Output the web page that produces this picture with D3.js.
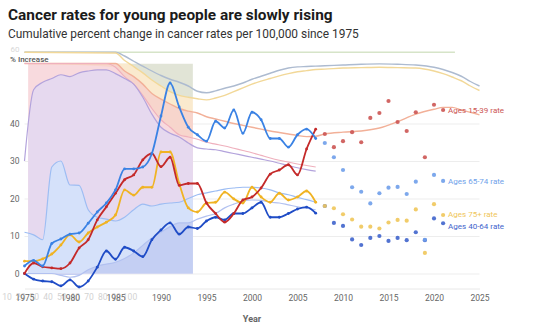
<!DOCTYPE html>
<html>
<head>
<meta charset="utf-8">
<script src="https://cdn.jsdelivr.net/npm/d3@7"></script>
<style>
  body { margin: 0; background: #fff; }
  svg { display: block; font-family: Roboto, "Noto Sans", sans-serif; }
</style>
</head>
<body>
<div id="chart"></div>
<script>
// Years drawn as connected lines, then as loose dots
var lineYears = d3.range(1975, 2008);
var dotYears = d3.range(2008, 2022);

// Cumulative % change per age group
var young = [0, 2.8, 1.8, 1.5, 1.3, 2.8, 6.8, 9, 14.3, 17.8, 21.4, 25, 26.3, 30.3, 32, 28.5, 31, 23.5, 24, 24, 18.8, 16, 13.7, 16, 19.6, 20.4, 22.8, 26.5, 27.6, 29, 26.3, 33.2, 38.5];
var youngDots = [37.2, 33.7, 35.3, 37.7, 35, 41.5, 42.8, 46, 40.4, 38, 43, 31, 45, 43.6];

var senior = [2, 3.5, 2, 8, 9.2, 10.5, 10.8, 13.4, 16.4, 18.8, 22.3, 27.9, 27.9, 28.4, 32, 42, 50.8, 44.4, 39, 37, 35.3, 40.6, 38.8, 43.6, 37.4, 43, 41, 36, 36, 33.7, 37, 38.5, 36];
var seniorDots = [34.8, 31, 27.6, 23, 21.8, 18.7, 21.4, 22.9, 23.1, 21.2, 24.5, 9, 26.3, 24.7];

var elder = [3.3, 3.3, 3.9, 5.2, 7.6, 10.3, 8.4, 10.8, 12.4, 13.7, 15.6, 22.3, 20.9, 23, 23, 32.4, 32.4, 24, 17.5, 16.4, 18.8, 19, 21.7, 19.9, 18.8, 23, 20.4, 19, 21.4, 19.6, 20.4, 22, 19];
var elderDots = [18, 17.4, 15.8, 14.4, 12.5, 12.5, 12, 13.6, 14.3, 14.1, 17.1, 5.5, 18.5, 15.6];

var middle = [0, -1.5, -2, -2.2, -3.3, -1.7, -3.6, -2, 1.7, 6, 3.8, 7, 6, 4.5, 9, 11.6, 13.5, 10.5, 12.4, 12, 14, 15, 14.3, 16, 16, 17.5, 19, 15, 15, 16, 17.2, 17.7, 16.1];
var middleDots = [18, 13.5, 12.7, 9.1, 7.6, 9.5, 10, 8.7, 9.5, 8.9, 11, 8.9, 14.7, 13.4];

// Faded layers left over from the previous view
var bandYears = [1975, 1985, 1986, 1987, 1988, 1989, 1990, 1991, 1992, 1993, 1994, 1995, 1996, 1997, 1998, 1999, 2000, 2001, 2002, 2003, 2004, 2005, 2006, 2007, 2008, 2010, 2012, 2014, 2016, 2018, 2020, 2021, 2022, 2023, 2024, 2025];
var bandGray = [59, 59, 58, 56.6, 55.3, 54, 52.8, 51.8, 51, 50, 48.6, 48.2, 48.7, 49.4, 50, 50.8, 51.8, 52.6, 53.4, 54.2, 54.8, 55.1, 55.2, 55.3, 55.4, 55.6, 55.8, 55.9, 55.8, 55.6, 55, 54.4, 53.6, 52.6, 51.2, 50];
var bandYellow = [59, 58.8, 56.8, 55.2, 53.5, 51.6, 50, 48.5, 47.5, 47, 46.6, 46.3, 46.8, 47.5, 48.5, 49.5, 50.5, 51.3, 52, 52.7, 53.3, 53.8, 54.1, 54.4, 54.5, 54.8, 54.9, 55, 54.9, 54.8, 54, 53.3, 52.4, 51.4, 50, 48.8];
var bandSalmon = [56, 56, 54, 52.5, 50.5, 48, 46.5, 45.2, 44, 43.3, 42.8, 41.8, 41.2, 40.6, 40, 39.5, 39, 38.5, 38, 37.6, 37.2, 36.8, 36.5, 36.6, 37.2, 37.7, 38, 38.8, 40.5, 42.5, 43.8, 44.3, 44.3, 43.6, 43, 42.3];

var bandPink = [56, 56, 56, 56, 56, 56, 56, 56, 56, 56, 55, 52.5, 50.5, 47.5, 44, 41, 39, 37, 36.4, 35.8, 35, 34.5, 34, 33.4, 32.8, 32.2, 31.5, 30.8, 30.2, 29.7, 29.2, 28.8, 28.4];
var bandPurple = [30, 49, 51, 52, 53, 52.5, 53.5, 54, 54.3, 54.3, 53.3, 52, 50.5, 47, 42.5, 39, 37.4, 36.4, 34.8, 33.5, 33.2, 33, 32.5, 32, 31.5, 31, 30.5, 30, 29.4, 28.8, 28.2, 27.7, 27.3];
var bandSky = [11, 10.3, 9, 28.4, 30, 23.6, 23.5, 17, 15, 14.5, 14, 15, 17, 18.5, 18, 18.5, 18.8, 19, 20, 21, 21.5, 22, 22.5, 22.8, 23, 23, 22.8, 22.3, 21.5, 21, 20.3, 19.7, 19];
var bandPeri = [0, 0, 0, 0, -0.5, -1, -0.5, 1, 2, 2.5, 3, 4, 5.5, 7.5, 9.5, 11, 12.5, 13.5, 13.5, 14.5, 15.3, 16, 17.5, 18.5, 19.3, 19.6, 19.5, 19, 18.8, 18.3, 17.8, 17.4, 17];

var topLineYears = [1975, 2022.3];
var topLineValue = 59;
var shadeYears = [1975.4, 1993.5];
var shadeTop = 56;

// Axis ticks
var yearTicks = [1975, 1980, 1985, 1990, 1995, 2000, 2005, 2010, 2015, 2020, 2025];
var yTicks = [0, 10, 20, 30, 40];
var ghostYTicks = [60];
var ghostXTicks = [10, 20, 30, 40, 50, 60, 70, 80, 90, 100];

var width = 550, height = 327;

var svg = d3.select('#chart')
  .append('svg')
  .attr('width', width)
  .attr('height', height);

var x = d3.scaleLinear().domain([1975, 2025]).range([24.5, 479.5]);
var y = d3.scaleLinear().domain([-4, 60]).range([288.5, 48.5]);
var xGhost = d3.scaleLinear().domain([40, 100]).range([48, 130]);

// Title block
svg.append('text')
  .attr('x', 8).attr('y', 20)
  .attr('font-size', 15.4).attr('font-weight', 700).attr('fill', '#1b1b1b')
  .text('Cancer rates for young people are slowly rising');
svg.append('text')
  .attr('x', 8).attr('y', 38)
  .attr('font-size', 11.9).attr('fill', '#333')
  .text('Cumulative percent change in cancer rates per 100,000 since 1975');

// Grid + y labels
var yAxis = svg.append('g')
  .attr('transform', 'translate(' + x(1975) + ',0)')
  .call(d3.axisLeft(y).tickValues(yTicks).tickSize(-(x(2025) - x(1975))).tickPadding(5));
yAxis.select('.domain').remove();
yAxis.selectAll('line').attr('stroke', '#ededed');
yAxis.selectAll('text').attr('fill', '#666').attr('font-size', 8.5).attr('font-family', 'Roboto, sans-serif');

svg.selectAll('.ghost-y')
  .data(ghostYTicks)
  .enter().append('text')
  .attr('x', x(1975) - 5).attr('y', function(d) { return y(d) + 3; })
  .attr('text-anchor', 'end').attr('font-size', 8).attr('fill', '#d8d8d8')
  .text(function(d) { return d; });

// Ghost x ticks
svg.selectAll('.ghost-x')
  .data(ghostXTicks)
  .enter().append('text')
  .attr('x', function(d) { return xGhost(d); }).attr('y', 300)
  .attr('text-anchor', 'middle').attr('font-size', 8.5).attr('fill', '#d2d2d2')
  .text(function(d) { return d; });

// X axis
var xAxis = svg.append('g')
  .attr('transform', 'translate(0,' + y(-4) + ')')
  .call(d3.axisBottom(x).tickValues(yearTicks).tickSize(0).tickPadding(6).tickFormat(d3.format('d')));
xAxis.select('.domain').attr('stroke', '#e8e8e8');
xAxis.selectAll('text').attr('fill', '#666').attr('font-size', 8.5).attr('font-family', 'Roboto, sans-serif');

svg.append('text')
  .attr('x', 10).attr('y', 62)
  .attr('font-size', 8).attr('font-weight', 500).attr('fill', '#555')
  .text('% Increase');
svg.append('text')
  .attr('x', x(2000)).attr('y', 322)
  .attr('text-anchor', 'middle')
  .attr('font-size', 9).attr('font-weight', 700).attr('fill', '#666')
  .text('Year');

// Shaded region
svg.append('clipPath').attr('id', 'shade')
  .append('rect')
  .attr('x', x(shadeYears[0])).attr('y', y(shadeTop))
  .attr('width', x(shadeYears[1]) - x(shadeYears[0]))
  .attr('height', y(-0.4) - y(shadeTop));

var shade = svg.append('g').attr('clip-path', 'url(#shade)');

function zipped(years, vals) {
  return years.map(function(d, i) { return {year: d, v: vals[i]}; });
}
function stacked(years, hi, lo) {
  return years.map(function(d, i) { return {year: d, hi: hi[i], lo: lo == null ? 0 : lo[i]}; });
}

var band = d3.area()
  .curve(d3.curveMonotoneX)
  .x(function(d) { return x(d.year); })
  .y0(function(d) { return y(d.lo); })
  .y1(function(d) { return y(d.hi); });

var ceiling = bandYears.map(function() { return shadeTop; });
var pinkOnBand = bandYears.map(function(d) {
  var i = lineYears.indexOf(d);
  return i < 0 ? bandPink[bandPink.length - 1] : bandPink[i];
});

shade.append('path').datum(stacked(bandYears, bandSalmon, null)).attr('d', band).attr('fill', '#f8dade');
shade.append('path').datum(stacked(bandYears, ceiling, bandYellow)).attr('d', band).attr('fill', '#e1e4d6');
shade.append('path').datum(stacked(bandYears, bandYellow, bandSalmon)).attr('d', band).attr('fill', '#faeace');
shade.append('path').datum(stacked(bandYears, bandSalmon, pinkOnBand)).attr('d', band).attr('fill', '#f7d5cc');
shade.append('path').datum(stacked(lineYears, bandPurple, null)).attr('d', band).attr('fill', '#e6d9ef');
shade.append('path').datum(stacked(lineYears, bandSky, null)).attr('d', band).attr('fill', '#d5e1fa');
shade.append('path').datum(stacked(lineYears, bandPeri, null)).attr('d', band).attr('fill', '#c4cff3');

var line = d3.line()
  .curve(d3.curveMonotoneX)
  .x(function(d) { return x(d.year); })
  .y(function(d) { return y(d.v); });

// Faded lines
var ghosts = [
  {years: topLineYears, vals: [topLineValue, topLineValue], color: '#d6e4c8', w: 1.6},
  {years: bandYears, vals: bandGray, color: '#adbbd0', w: 1.4},
  {years: bandYears, vals: bandYellow, color: '#f2d898', w: 1.4},
  {years: bandYears, vals: bandSalmon, color: '#f2b098', w: 1.4},
  {years: lineYears, vals: bandPink, color: '#efb0bd', w: 1.2},
  {years: lineYears, vals: bandPurple, color: '#b3a3dc', w: 1.2},
  {years: lineYears, vals: bandSky, color: '#9dbdf3', w: 1.2},
  {years: lineYears, vals: bandPeri, color: '#b2c1f0', w: 1.2}
];
ghosts.forEach(function(g) {
  svg.append('path')
    .datum(zipped(g.years, g.vals))
    .attr('d', line)
    .attr('fill', 'none')
    .attr('stroke', g.color)
    .attr('stroke-width', g.w);
});

// Main series
var series = [
  {vals: middle, dots: middleDots, line: '#1f4cc6', dot: '#3f64cc', label: 'Ages 40-64 rate', dy: 3},
  {vals: elder, dots: elderDots, line: '#f0b323', dot: '#efc65a', label: 'Ages 75+ rate', dy: -1},
  {vals: young, dots: youngDots, line: '#c42a2a', dot: '#cc5553', label: 'Ages 15-39 rate', dy: 0},
  {vals: senior, dots: seniorDots, line: '#3a82e4', dot: '#6f9fea', label: 'Ages 65-74 rate', dy: 0}
];

series.forEach(function(s) {
  var pts = zipped(lineYears, s.vals);
  svg.append('path')
    .datum(pts)
    .attr('d', line)
    .attr('fill', 'none')
    .attr('stroke', s.line)
    .attr('stroke-width', 1.8);

  svg.append('g').selectAll('circle')
    .data(pts)
    .enter().append('circle')
    .attr('cx', function(d) { return x(d.year); })
    .attr('cy', function(d) { return y(d.v); })
    .attr('r', 1.4)
    .attr('fill', s.line);

  var dots = zipped(dotYears, s.dots);
  svg.append('g').selectAll('circle')
    .data(dots)
    .enter().append('circle')
    .attr('cx', function(d) { return x(d.year); })
    .attr('cy', function(d) { return y(d.v); })
    .attr('r', 2.1)
    .attr('fill', s.dot)
    .attr('opacity', 0.9);

  var last = dots[dots.length - 1];
  svg.append('text')
    .attr('x', x(last.year) + 5)
    .attr('y', y(last.v) + 3 + s.dy)
    .attr('font-size', 8)
    .attr('fill', s.dot)
    .text(s.label);
});
</script>
</body>
</html>
